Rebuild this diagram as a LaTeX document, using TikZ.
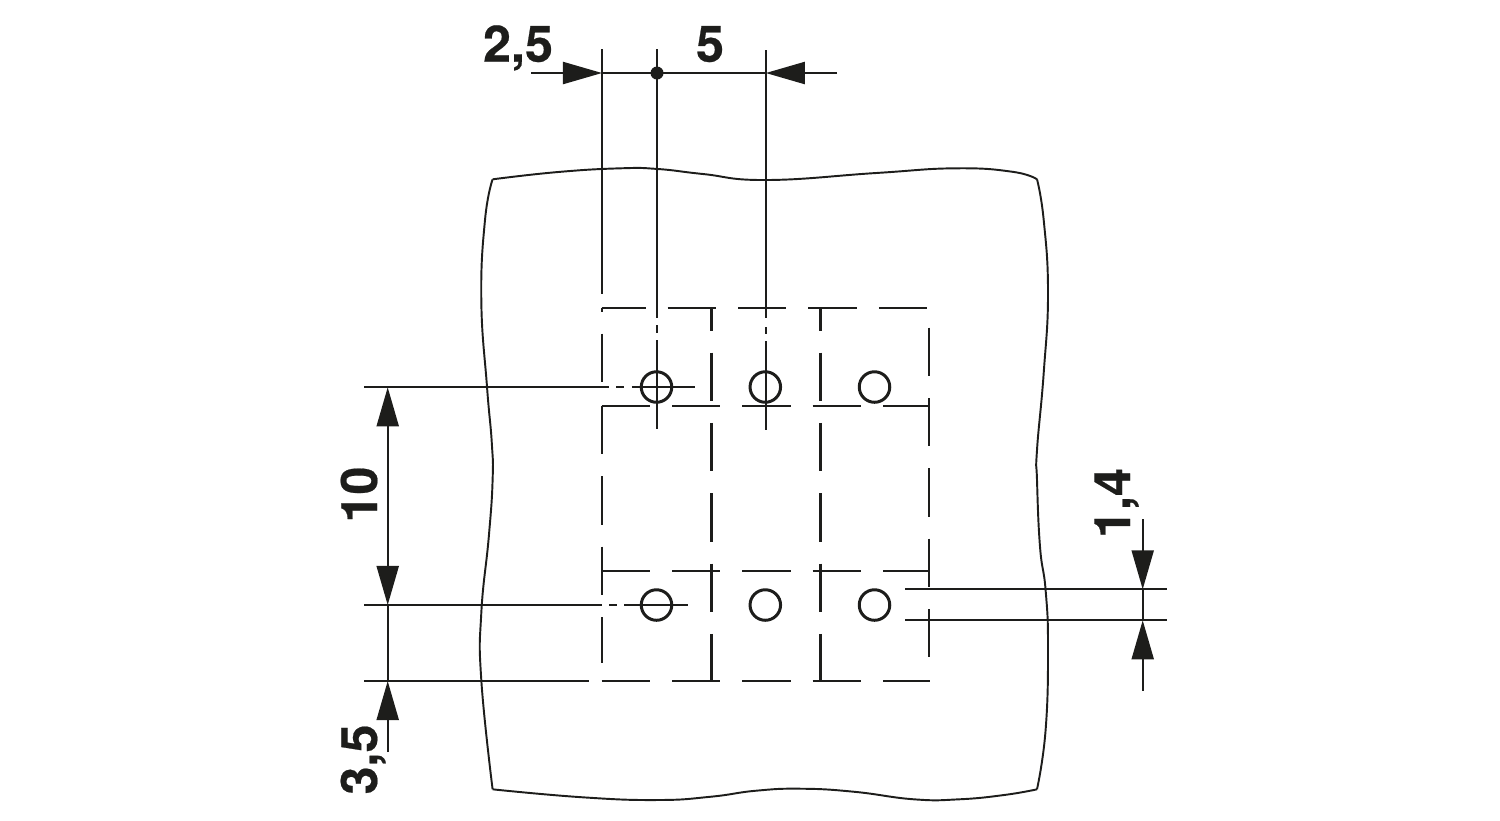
\documentclass[tikz,border=0pt]{standalone}
\usepackage{fontspec}
\setmainfont{TeX Gyre Heros}[BoldFeatures={FakeBold=0.4}]
\usetikzlibrary{arrows.meta}
\definecolor{ink}{HTML}{1D1D1B}
\tikzset{
  plate/.style={line width=0.55pt, draw=ink},
  dim/.style={line width=0.6pt, draw=ink, >={Triangle[length=.39cm,width=.22cm]}},
  hidden/.style={line width=0.68pt, draw=ink, dash pattern=on .483cm off .22cm},
  hole/.style={circle, minimum size=.305cm, inner sep=0pt, line width=0.85pt, draw=ink},
  spot/.style={circle, minimum size=.13cm, inner sep=0pt, fill=ink},
  label/.style={inner sep=0pt, text=ink, anchor=base, font=\bfseries\fontsize{14.3}{14.3}\selectfont}
}
\begin{document}
\begin{tikzpicture}[x=.01cm,y=-.01cm]
	\useasboundingbox (0,0) rectangle (1500,820);
	% plate outline
	\draw[plate] plot[smooth,tension=.8] coordinates {(492.6,179.3) (558,172) (620.5,168.3) (658,169) (703,174) (767,180) (876,173) (955,168.3) (1012,171.7) (1037,179.3)};
	\draw[plate] plot[smooth,tension=.8] coordinates {(492.6,179.3) (485,220) (481.3,300) (487,386.7) (491.8,443) (492.6,480) (488.8,536.7) (481.3,613) (481.3,680) (492.6,789.3)};
	\draw[plate] plot[smooth,tension=.8] coordinates {(1037,179.3) (1043.7,220) (1048,293) (1043.7,373) (1037,450) (1037,480) (1040,546.7) (1045.6,590) (1048,646.7) (1045.6,730) (1037,789.3)};
	\draw[plate] plot[smooth,tension=.8] coordinates {(492.6,789.3) (583,797.3) (658,800) (710.8,796.7) (756,790.7) (801,788.7) (853.7,791.7) (914,799.3) (959,799.3) (1004,795) (1037,789.3)};
	% contact holes
	\foreach \col/\xpos in {a/656.5,b/765.3,c/874.5}
		\foreach \row/\ypos in {1/387,2/605}
			\node[hole] (\col\row) at (\xpos,\ypos) {};
	% hidden edges
	\draw[hidden, dash phase=.043cm] (601.7,307.7) -- (928,307.7);
	\foreach \ypos in {406,571,681}
		\draw[hidden] (601.7,\ypos) -- (930,\ypos);
	\draw[hidden, dash phase=.443cm] (602,307.7) -- (602,382.3);
	\draw[hidden] (602,406) -- (602,663.3);
	\foreach \xpos in {711.5,820.3}
		\draw[hidden, dash phase=.255cm] (\xpos,307.7) -- (\xpos,681);
	\draw[hidden] (929,327.7) -- (929,656.7);
	% extension lines
	\coordinate (top1) at (602,49);
	\coordinate (end1) at (602,294);
	\coordinate (top2) at (657,49);
	\coordinate (end2) at (657,429);
	\coordinate (top3) at (765.8,50);
	\coordinate (end3) at (765.8,430);
	\draw[dim] (top1) -- (end1);
	\draw[dim, dash pattern=on 2.69cm off .07cm on .08cm off .07cm on 5cm] (top2) -- (end2);
	\draw[dim, dash pattern=on 2.68cm off .09cm on .07cm off .07cm on 5cm] (top3) -- (end3);
	\coordinate (left1) at (364,387.3);
	\coordinate (right1) at (695,387.3);
	\coordinate (left2) at (364,605);
	\coordinate (right2) at (688,605);
	\coordinate (left3) at (364,681);
	\coordinate (right3) at (589,681);
	\draw[dim, dash pattern=on 2.453cm off .067cm on .08cm off .077cm on 5cm] (left1) -- (right1);
	\draw[dim, dash pattern=on 2.377cm off .073cm on .08cm off .07cm on 5cm] (left2) -- (right2);
	\draw[dim] (left3) -- (right3);
	\draw[dim] (905,589.3) coordinate (in1) -- (1167,589.3) coordinate (out1);
	\draw[dim] (905,620.3) coordinate (in2) -- (1167,620.3) coordinate (out2);
	% top dimension
	\coordinate (pitchA) at (531,73);
	\coordinate (tipA) at (602,73);
	\coordinate (tipB) at (765.8,73);
	\coordinate (pitchB) at (837,73);
	\draw[dim,->] (pitchA) -- (tipA);
	\draw[dim] (tipA) -- (tipB);
	\draw[dim,->] (pitchB) -- (tipB);
	\node[spot] (centre) at (657,73) {};
	\node[label] (half) at (518,61.7) {2,5};
	\node[label] (pitch) at (710,61.7) {5};
	% left dimension
	\coordinate (tipC) at (387.7,387.3);
	\coordinate (tipD) at (387.7,605);
	\coordinate (tipE) at (387.7,681);
	\coordinate (tail) at (387.7,752);
	\draw[dim,<->] (tipC) -- (tipD);
	\draw[dim] (tipD) -- (tipE);
	\draw[dim,->] (tail) -- (tipE);
	\node[label, rotate=90] (row) at (377,494.5) {10};
	\node[label, rotate=90] (edge) at (377,759.5) {3,5};
	% right dimension
	\coordinate (upper) at (1142.7,519);
	\coordinate (lower) at (1142.7,690.7);
	\coordinate (tipF) at (1142.7,589.3);
	\coordinate (tipG) at (1142.7,620.3);
	\draw[dim,->] (upper) -- (tipF);
	\draw[dim] (tipF) -- (tipG);
	\draw[dim,->] (lower) -- (tipG);
	\node[label, rotate=90] (bore) at (1130,503) {1,4};
\end{tikzpicture}
\end{document}
